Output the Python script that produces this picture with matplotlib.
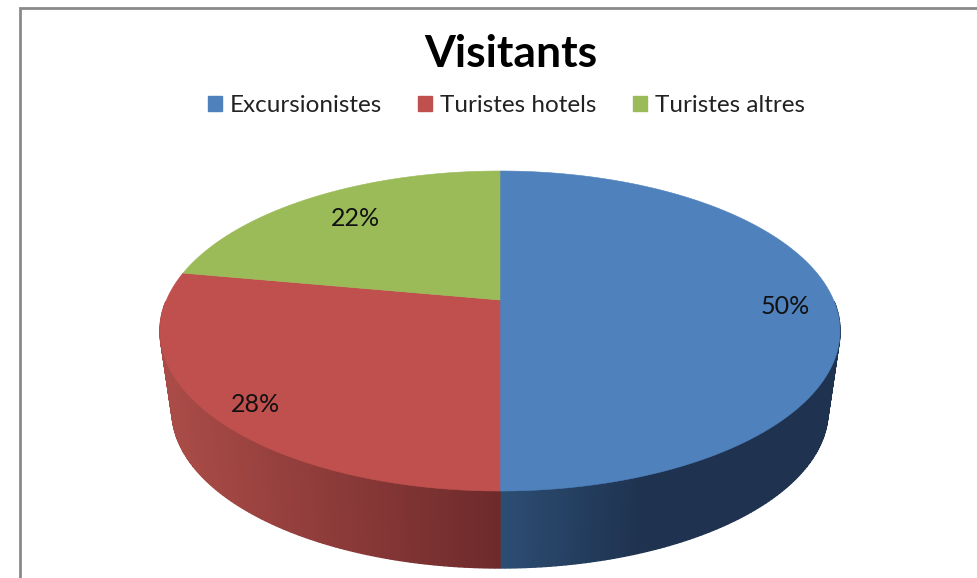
import numpy as np
import matplotlib
matplotlib.use("Agg")
import matplotlib.pyplot as plt
from matplotlib.patches import Patch
from matplotlib.colors import to_rgb

categories = ["Excursionistes", "Turistes hotels", "Turistes altres"]
shares = [50, 28, 22]
face_colors = ["#4F81BD", "#C0504D", "#9BBB59"]
title = "Visitants"

plt.rcParams["font.family"] = ["Lato", "DejaVu Sans"]
W, H = 977, 578
fig = plt.figure(figsize=(W / 100, H / 100), dpi=100, facecolor="white")
ax = fig.add_axes([0, 0, 1, 1])
ax.set_xlim(0, W)
ax.set_ylim(H, 0)
ax.axis("off")

# projection of the tilted disc, in pixels
cx, cy, rx, ry = 500, 331, 340, 160
lx, ly, lrx, lry = 500, 411, 328, 157
apex = (500, 300)


def warp(a):
    return a + 0.185 * np.cos(a)


def rim(a):
    t = warp(a)
    return cx + rx * np.cos(t), cy - ry * np.sin(t)


def low(a):
    t = warp(a)
    return lx + lrx * np.cos(t), ly - lry * np.sin(t)


edges = np.pi / 2 - 2 * np.pi * np.concatenate([[0], np.cumsum(shares)]) / sum(shares)

# side wall: gradient strips along the front rim
side = [("#2C4D73", "#1F3350", 500, 640), ("#6E2A2B", "#A94B47", 500, 172)]
for i, (near, far, x0, x1) in enumerate(side):
    a0, a1 = (0.0, -np.pi / 2) if i == 0 else (-np.pi / 2, -np.pi)
    a = np.linspace(a0, a1, 121)
    for s, e in zip(a[:-1], a[1:]):
        tx0, ty0 = rim(s)
        tx1, ty1 = rim(e)
        bx0, by0 = low(s)
        bx1, by1 = low(e)
        f = np.clip(((tx0 + tx1) / 2 - x0) / (x1 - x0), 0, 1)
        col = tuple((1 - f) * np.array(to_rgb(near)) + f * np.array(to_rgb(far)))
        ax.fill([tx0, tx1, bx1, bx0], [ty0, ty1, by1, by0], color=col, lw=1.0, zorder=2)

# top face
for i, col in enumerate(face_colors):
    a = np.linspace(edges[i], edges[i + 1], 200)
    x, y = rim(a)
    ax.fill(np.r_[apex[0], x], np.r_[apex[1], y], color=col, lw=0.4, zorder=3)

# percentage labels
label_pos = [(785, 306), (255, 405), (355, 219)]
for v, (x, y) in zip(shares, label_pos):
    ax.text(x, y, f"{v}%", ha="center", va="center", fontsize=18, color="#111111", zorder=4)

# chart frame
ax.plot([20, 20, W], [H, 8, 8], color="#8A8A8A", lw=2, zorder=1, solid_joinstyle="miter")

ax.text(511, 54, title, ha="center", va="center", fontsize=32, fontweight="bold", color="black")

handles = [Patch(color=c, label=n) for c, n in zip(face_colors, categories)]
ax.legend(handles=handles, ncol=3, loc="center", bbox_to_anchor=(506.5 / W, 1 - 106 / H),
          frameon=False, fontsize=17.5, handlelength=0.58, handleheight=0.58,
          handletextpad=0.33, columnspacing=1.5, labelcolor="#222222")

fig.savefig("out.png", dpi=100, facecolor="white")
